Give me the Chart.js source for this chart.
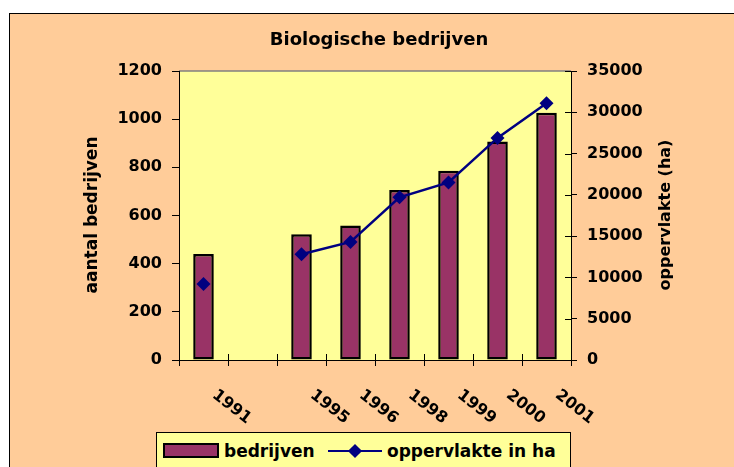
<!DOCTYPE html>
<html>
<head>
<meta charset="utf-8">
<script src="https://cdn.jsdelivr.net/npm/chart.js@4.4.0/dist/chart.umd.min.js"></script>
<style>
  body { margin: 0; background: #fff; width: 734px; height: 467px; overflow: hidden; position: relative; }
  #bg { position: absolute; left: 9px; top: 13px; width: 800px; height: 500px; background: #FFCC99; border: 1px solid #000; }
  #chart { position: absolute; left: 0; top: 0; }
  #legend { position: absolute; left: 156px; top: 432px; width: 413px; height: 60px; background: #FFFF99; border: 1px solid #000;
            font: bold 17px "DejaVu Sans", sans-serif; color: #000; }
  #legend span { position: absolute; top: 8px; line-height: 20px; white-space: nowrap; }
  .sw-bar { position: absolute; left: 6px; top: 10px; width: 56px; height: 15px; box-sizing: border-box; background: #993366; border: 2px solid #000; }
  .sw-line { position: absolute; left: 171px; top: 17px; width: 54px; height: 2px; background: #000080; }
  .sw-dia { position: absolute; left: 193px; top: 13px; width: 10px; height: 10px; background: #000080; transform: rotate(45deg); }
</style>
</head>
<body>
<div id="bg"></div>
<canvas id="chart" width="734" height="467"></canvas>
<div id="legend">
  <div class="sw-bar"></div><span style="left:67px">bedrijven</span>
  <div class="sw-line"></div><div class="sw-dia"></div><span style="left:230px">oppervlakte in ha</span>
</div>
<script>
const years = ["1991", "", "1995", "1996", "1998", "1999", "2000", "2001"];
const bedrijven = [440, null, 522, 558, 706, 786, 907, 1027];
const oppervlakte = [9200, null, 12800, 14300, 19700, 21500, 26900, 31100];

const chartTitle = "Biologische bedrijven";
const leftTitle = "aantal bedrijven";
const rightTitle = "oppervlakte (ha)";

const FONT = '"DejaVu Sans", sans-serif';

// plot background, titles, x labels and the inward parts of the ticks
const excelLook = {
  id: "excelLook",
  beforeDraw(chart) {
    const { ctx, chartArea: a } = chart;
    ctx.save();
    ctx.fillStyle = "#FFFF99";
    ctx.fillRect(a.left, a.top, a.right - a.left, a.bottom - a.top);
    ctx.strokeStyle = "#808080";
    ctx.lineWidth = 1.5;
    ctx.beginPath();
    ctx.moveTo(a.left, a.top);
    ctx.lineTo(a.right, a.top);
    ctx.stroke();
    ctx.restore();
  },
  afterDraw(chart) {
    const { ctx, chartArea: a, scales } = chart;
    ctx.save();
    ctx.fillStyle = "#000";
    ctx.textAlign = "center";
    ctx.textBaseline = "middle";

    ctx.font = "bold 18px " + FONT;
    ctx.fillText(chartTitle, 379, 40);

    ctx.font = "bold 17px " + FONT;
    ctx.save();
    ctx.translate(93, 215);
    ctx.rotate(-Math.PI / 2);
    ctx.fillText(leftTitle, 0, 0);
    ctx.restore();

    ctx.font = "bold 16px " + FONT;
    ctx.save();
    ctx.translate(666, 215);
    ctx.rotate(-Math.PI / 2);
    ctx.fillText(rightTitle, 0, 0);
    ctx.restore();

    // rotated category labels
    ctx.font = "bold 16px " + FONT;
    years.forEach((y, i) => {
      if (!y) return;
      const x = scales.x.getPixelForValue(i);
      ctx.save();
      ctx.translate(x + 28, 407);
      ctx.rotate(38 * Math.PI / 180);
      ctx.fillText(y, 0, 0);
      ctx.restore();
    });

    // tick marks crossing into the plot
    ctx.strokeStyle = "#000";
    ctx.lineWidth = 1;
    ctx.beginPath();
    for (let i = 0; i <= years.length; i++) {
      const x = Math.round(scales.x.getPixelForValue(i - 0.5)) + 0.5;
      ctx.moveTo(x, a.bottom);
      ctx.lineTo(x, a.bottom - 6);
    }
    scales.y1.ticks.forEach(t => {
      const y = Math.round(scales.y1.getPixelForValue(t.value)) + 0.5;
      ctx.moveTo(a.right, y);
      ctx.lineTo(a.right - 6, y);
    });
    ctx.stroke();
    ctx.restore();
  }
};

const tickFont = { family: FONT, size: 16, weight: "bold" };

new Chart(document.getElementById("chart"), {
  type: "bar",
  data: {
    labels: years,
    datasets: [
      {
        type: "line",
        label: "oppervlakte in ha",
        data: oppervlakte,
        yAxisID: "y1",
        order: 0,
        borderColor: "#000080",
        borderWidth: 2.5,
        pointStyle: "rectRot",
        pointRadius: 7,
        pointBackgroundColor: "#000080",
        pointBorderColor: "#000080",
        pointBorderWidth: 0,
        spanGaps: false,
        tension: 0
      },
      {
        label: "bedrijven",
        data: bedrijven,
        yAxisID: "y",
        order: 1,
        backgroundColor: "#993366",
        borderColor: "#000",
        borderWidth: 2.5,
        borderSkipped: false,
        barPercentage: 0.42,
        categoryPercentage: 1
      }
    ]
  },
  options: {
    responsive: false,
    devicePixelRatio: 1,
    animation: false,
    events: [],
    layout: { padding: { top: 71, left: 0, right: 0, bottom: 0 } },
    plugins: { legend: { display: false }, tooltip: { enabled: false }, title: { display: false } },
    scales: {
      x: {
        offset: true,
        grid: { display: true, drawOnChartArea: false, drawTicks: true, tickLength: 6, color: "#000", offset: true },
        border: { display: true, color: "#000", width: 1 },
        ticks: { display: false },
        afterFit: s => { s.height = 107; }
      },
      y: {
        position: "left",
        min: 0,
        max: 1200,
        ticks: { stepSize: 200, font: tickFont, color: "#000", padding: 10, callback: v => String(v) },
        grid: { drawOnChartArea: false, tickLength: 7, color: "#000" },
        border: { color: "#000", width: 1 },
        afterFit: s => { s.width = 179; }
      },
      y1: {
        position: "right",
        min: 0,
        max: 35000,
        ticks: { stepSize: 5000, font: tickFont, color: "#000", padding: 10, callback: v => String(v) },
        grid: { drawOnChartArea: false, tickLength: 6, color: "#000" },
        border: { color: "#000", width: 1 },
        afterFit: s => { s.width = 163; }
      }
    }
  },
  plugins: [excelLook]
});
</script>
</body>
</html>
